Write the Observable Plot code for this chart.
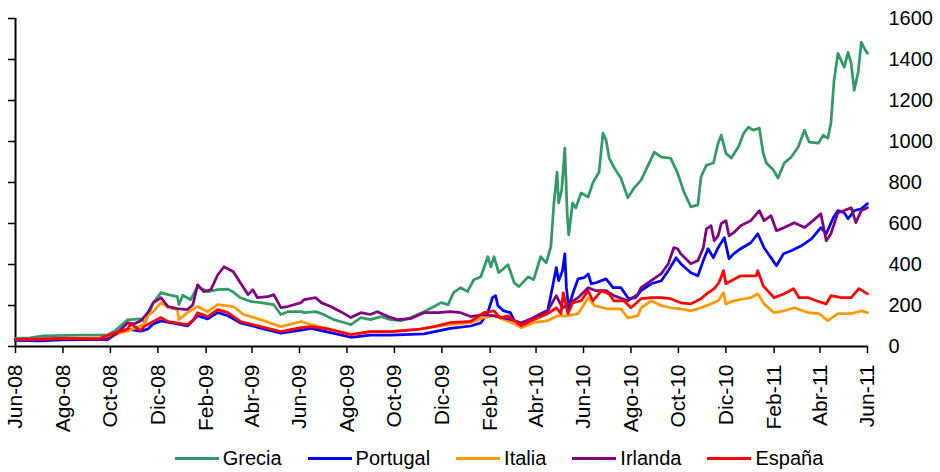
<!DOCTYPE html>
<html><head><meta charset="utf-8">
<script src="https://cdn.jsdelivr.net/npm/d3@7"></script>
<script src="https://cdn.jsdelivr.net/npm/@observablehq/plot@0.6"></script>
<style>
body{margin:0;background:#fff;font-family:"Liberation Sans",Arial,sans-serif;}
#wrap{position:relative;width:940px;height:472px;overflow:hidden;}
#legend{position:absolute;left:147px;top:444px;width:704px;height:28px;display:flex;align-items:center;justify-content:center;gap:26px;font-size:20px;color:#000;}
.item{display:flex;align-items:center;gap:4px}
.sw{width:44px;height:3px}
</style></head><body><div id="wrap"><div id="chart"></div><div id="legend"></div></div>
<script>
const seriesNames = ["Grecia","Portugal","Italia","Irlanda","España"];
const seriesColors = ["#339966","#0000ff","#ff9900","#800080","#ff0000"];
const yTicks = [0,200,400,600,800,1000,1200,1400,1600];
const xTicks = ["2008-06-01","2008-08-01","2008-10-01","2008-12-01","2009-02-01","2009-04-01","2009-06-01","2009-08-01","2009-10-01","2009-12-01","2010-02-01","2010-04-01","2010-06-01","2010-08-01","2010-10-01","2010-12-01","2011-02-01","2011-04-01","2011-06-01"];
const xTickLabels = ["Jun-08","Ago-08","Oct-08","Dic-08","Feb-09","Abr-09","Jun-09","Ago-09","Oct-09","Dic-09","Feb-10","Abr-10","Jun-10","Ago-10","Oct-10","Dic-10","Feb-11","Abr-11","Jun-11"];

const grecia = [["2008-06-01",40],["2008-06-20",42],["2008-07-06",52],["2008-08-24",55],["2008-09-27",55],["2008-10-08",80],["2008-10-23",130],["2008-11-09",135],["2008-11-15",120],["2008-11-25",213],["2008-12-05",263],["2008-12-14",253],["2008-12-26",243],["2008-12-28",204],["2009-01-02",250],["2009-01-12",228],["2009-01-21",292],["2009-02-03",268],["2009-02-16",277],["2009-03-01",280],["2009-03-08",265],["2009-03-17",238],["2009-03-31",219],["2009-04-12",214],["2009-04-29",204],["2009-05-08",156],["2009-05-17",170],["2009-06-03",170],["2009-06-07",165],["2009-06-22",170],["2009-07-02",156],["2009-07-15",131],["2009-07-28",117],["2009-08-06",107],["2009-08-19",141],["2009-08-31",131],["2009-09-14",146],["2009-09-26",131],["2009-10-09",126],["2009-10-22",141],["2009-11-08",170],["2009-11-21",195],["2009-11-30",214],["2009-12-09",204],["2009-12-16",263],["2009-12-25",287],["2010-01-03",268],["2010-01-11",326],["2010-01-20",340],["2010-01-29",438],["2010-02-02",389],["2010-02-06",438],["2010-02-12",360],["2010-02-24",399],["2010-03-04",311],["2010-03-10",292],["2010-03-22",340],["2010-03-29",326],["2010-04-07",438],["2010-04-14",408],["2010-04-20",486],["2010-04-24",700],["2010-04-28",851],["2010-04-30",700],["2010-05-04",763],["2010-05-08",968],["2010-05-11",652],["2010-05-13",545],["2010-05-18",700],["2010-05-22",676],["2010-05-29",749],["2010-06-07",729],["2010-06-13",798],["2010-06-21",851],["2010-06-26",1041],["2010-06-30",1007],["2010-07-04",919],["2010-07-10",875],["2010-07-19",822],["2010-07-28",725],["2010-08-05",773],["2010-08-14",812],["2010-08-31",948],["2010-09-09",924],["2010-09-21",919],["2010-09-30",846],["2010-10-08",754],["2010-10-17",681],["2010-10-26",691],["2010-10-30",827],["2010-11-06",885],["2010-11-15",895],["2010-11-21",992],["2010-11-25",1031],["2010-12-01",943],["2010-12-08",919],["2010-12-17",973],["2010-12-24",1041],["2010-12-30",1070],["2011-01-05",1055],["2011-01-13",1065],["2011-01-18",943],["2011-01-22",895],["2011-01-31",861],["2011-02-06",822],["2011-02-14",895],["2011-02-23",924],["2011-03-04",973],["2011-03-12",1055],["2011-03-18",997],["2011-03-30",992],["2011-04-05",1031],["2011-04-11",1016],["2011-04-15",1089],["2011-04-19",1298],["2011-04-24",1430],["2011-04-28",1396],["2011-05-02",1362],["2011-05-07",1435],["2011-05-11",1381],["2011-05-15",1250],["2011-05-20",1337],["2011-05-24",1483],["2011-05-28",1454],["2011-06-01",1430]];

const portugal = [["2008-06-01",30],["2008-07-03",28],["2008-07-30",32],["2008-09-18",35],["2008-10-01",50],["2008-10-23",85],["2008-11-09",75],["2008-11-18",85],["2008-11-25",110],["2008-12-05",125],["2008-12-26",110],["2009-01-08",100],["2009-01-21",150],["2009-02-03",135],["2009-02-16",165],["2009-03-01",150],["2009-03-17",115],["2009-04-12",90],["2009-05-08",65],["2009-06-03",80],["2009-06-16",88],["2009-07-11",68],["2009-08-06",45],["2009-08-31",55],["2009-09-26",55],["2009-11-08",62],["2009-12-12",88],["2010-01-07",100],["2010-01-20",115],["2010-01-29",165],["2010-02-04",238],["2010-02-08",248],["2010-02-11",199],["2010-02-18",175],["2010-02-27",165],["2010-03-04",126],["2010-03-13",111],["2010-03-22",126],["2010-04-07",160],["2010-04-16",175],["2010-04-23",306],["2010-04-27",385],["2010-04-30",321],["2010-05-05",370],["2010-05-08",452],["2010-05-10",287],["2010-05-13",189],["2010-05-18",256],["2010-05-25",330],["2010-06-02",336],["2010-06-07",354],["2010-06-11",306],["2010-06-17",311],["2010-06-30",330],["2010-07-09",287],["2010-07-19",287],["2010-07-29",233],["2010-08-07",238],["2010-08-14",272],["2010-08-27",306],["2010-09-09",321],["2010-09-18",370],["2010-09-28",433],["2010-10-04",404],["2010-10-17",360],["2010-10-26",345],["2010-11-02",419],["2010-11-08",477],["2010-11-15",433],["2010-11-21",482],["2010-11-29",531],["2010-12-05",428],["2010-12-11",452],["2010-12-20",477],["2011-01-02",506],["2011-01-11",550],["2011-01-19",482],["2011-01-28",433],["2011-02-04",394],["2011-02-13",452],["2011-02-23",467],["2011-03-08",491],["2011-03-21",525],["2011-04-02",580],["2011-04-09",550],["2011-04-18",628],["2011-04-24",663],["2011-05-02",653],["2011-05-07",623],["2011-05-15",663],["2011-05-24",672],["2011-06-01",697]];

const italia = [["2008-06-01",35],["2008-07-30",38],["2008-09-18",40],["2008-10-01",55],["2008-10-23",75],["2008-11-13",107],["2008-11-18",150],["2008-11-25",170],["2008-12-05",214],["2008-12-14",190],["2008-12-26",180],["2008-12-28",131],["2009-01-08",165],["2009-01-21",195],["2009-02-03",170],["2009-02-16",204],["2009-03-08",195],["2009-03-21",156],["2009-04-12",131],["2009-05-08",97],["2009-06-03",122],["2009-06-16",107],["2009-07-02",92],["2009-08-06",58],["2009-08-31",73],["2009-09-26",73],["2009-10-31",83],["2009-11-21",97],["2009-12-12",107],["2010-01-07",117],["2010-01-24",141],["2010-02-06",150],["2010-03-04",111],["2010-03-13",92],["2010-03-29",116],["2010-04-16",126],["2010-04-29",150],["2010-05-12",150],["2010-05-25",160],["2010-06-07",238],["2010-06-15",199],["2010-07-02",184],["2010-07-19",184],["2010-07-28",140],["2010-08-10",150],["2010-08-14",189],["2010-08-27",223],["2010-09-09",199],["2010-09-21",189],["2010-10-04",184],["2010-10-17",174],["2010-10-30",189],["2010-11-12",208],["2010-11-21",223],["2010-11-28",262],["2010-12-01",208],["2010-12-11",223],["2010-12-25",233],["2011-01-02",238],["2011-01-11",257],["2011-01-19",208],["2011-02-01",165],["2011-02-14",174],["2011-02-27",189],["2011-03-17",165],["2011-03-31",160],["2011-04-11",126],["2011-04-24",160],["2011-05-11",160],["2011-05-24",174],["2011-06-01",165]];

const irlanda = [["2008-06-01",35],["2008-07-30",38],["2008-09-18",35],["2008-09-27",32],["2008-10-08",60],["2008-10-23",115],["2008-10-31",110],["2008-11-09",125],["2008-11-18",165],["2008-11-25",213],["2008-12-05",238],["2008-12-14",195],["2008-12-26",185],["2009-01-08",180],["2009-01-15",204],["2009-01-21",301],["2009-01-29",268],["2009-02-07",277],["2009-02-16",350],["2009-02-24",389],["2009-03-08",365],["2009-03-17",311],["2009-03-27",253],["2009-04-02",277],["2009-04-08",238],["2009-04-21",243],["2009-04-29",253],["2009-05-08",190],["2009-05-17",195],["2009-06-03",214],["2009-06-07",229],["2009-06-22",238],["2009-06-29",214],["2009-07-11",195],["2009-07-24",170],["2009-08-06",141],["2009-08-19",165],["2009-08-31",156],["2009-09-09",170],["2009-09-23",146],["2009-10-05",131],["2009-10-22",136],["2009-11-08",165],["2009-11-26",165],["2009-12-12",170],["2009-12-25",165],["2010-01-07",146],["2010-01-24",156],["2010-02-06",150],["2010-02-24",135],["2010-03-13",116],["2010-03-29",140],["2010-04-16",174],["2010-04-27",248],["2010-05-05",189],["2010-05-13",208],["2010-05-25",238],["2010-06-07",287],["2010-06-17",272],["2010-06-30",272],["2010-07-10",248],["2010-07-28",223],["2010-08-10",256],["2010-08-14",287],["2010-08-27",321],["2010-09-09",355],["2010-09-18",404],["2010-09-25",482],["2010-09-30",477],["2010-10-04",452],["2010-10-17",404],["2010-10-26",419],["2010-11-02",482],["2010-11-06",574],["2010-11-12",589],["2010-11-16",516],["2010-11-21",540],["2010-11-25",599],["2010-12-01",614],["2010-12-05",540],["2010-12-11",555],["2010-12-20",589],["2011-01-02",614],["2011-01-13",663],["2011-01-19",614],["2011-01-28",638],["2011-02-04",565],["2011-02-14",580],["2011-02-27",604],["2011-03-12",580],["2011-03-23",614],["2011-04-02",648],["2011-04-09",516],["2011-04-15",550],["2011-04-24",653],["2011-05-02",663],["2011-05-11",677],["2011-05-17",604],["2011-05-24",663],["2011-06-01",677]];

const espana = [["2008-06-01",35],["2008-07-03",35],["2008-07-30",38],["2008-09-18",40],["2008-10-01",60],["2008-10-23",85],["2008-10-27",110],["2008-11-09",77],["2008-11-13",97],["2008-11-25",122],["2008-12-05",141],["2008-12-14",122],["2009-01-08",107],["2009-01-16",131],["2009-01-21",165],["2009-02-03",146],["2009-02-16",180],["2009-03-01",165],["2009-03-17",122],["2009-04-12",97],["2009-05-08",73],["2009-06-03",92],["2009-06-16",97],["2009-07-11",83],["2009-08-06",58],["2009-08-31",73],["2009-09-26",73],["2009-10-31",83],["2009-11-21",97],["2009-12-12",117],["2010-01-07",122],["2010-01-24",165],["2010-02-06",174],["2010-02-14",140],["2010-02-24",150],["2010-03-04",126],["2010-03-13",101],["2010-03-26",126],["2010-04-16",160],["2010-04-27",189],["2010-05-03",160],["2010-05-06",262],["2010-05-12",160],["2010-05-18",213],["2010-05-29",223],["2010-06-07",272],["2010-06-13",223],["2010-06-24",272],["2010-07-04",256],["2010-07-10",223],["2010-07-23",223],["2010-08-01",189],["2010-08-14",233],["2010-08-27",238],["2010-09-09",238],["2010-09-21",233],["2010-10-04",213],["2010-10-17",208],["2010-10-30",233],["2010-11-08",262],["2010-11-16",282],["2010-11-22",311],["2010-11-28",370],["2010-12-01",306],["2010-12-08",321],["2010-12-20",345],["2011-01-09",345],["2011-01-11",370],["2011-01-18",296],["2011-02-01",238],["2011-02-14",257],["2011-02-26",282],["2011-03-05",238],["2011-03-17",238],["2011-03-27",223],["2011-04-09",208],["2011-04-15",248],["2011-04-28",238],["2011-05-11",238],["2011-05-21",282],["2011-06-01",257]];

const seriesData = [grecia, portugal, italia, irlanda, espana];

const tickDates = xTicks.map(d => new Date(d));
const labelByTime = new Map(tickDates.map((d, i) => [+d, xTickLabels[i]]));

const lineMarks = seriesData.map((data, i) =>
  Plot.lineY(data, {
    x: d => new Date(d[0]),
    y: d => d[1],
    stroke: seriesColors[i],
    strokeWidth: 2.75,
    strokeLinejoin: "round"
  })
);

const chart = Plot.plot({
  width: 940,
  height: 444,
  marginLeft: 15,
  marginRight: 73,
  marginTop: 18,
  marginBottom: 98,
  style: {fontFamily: "'Liberation Sans', Arial, sans-serif", fontSize: "20px", color: "#000", background: "transparent", overflow: "visible"},
  x: {type: "utc", domain: [tickDates[0], tickDates[tickDates.length - 1]]},
  y: {domain: [yTicks[0], yTicks[yTicks.length - 1]]},
  marks: [
    Plot.axisX({ticks: tickDates, tickFormat: d => labelByTime.get(+d), tickRotate: -90, tickSize: 7, tickPadding: 11, strokeWidth: 1.5, fontSize: 21, label: null}),
    Plot.axisY({anchor: "right", ticks: yTicks, tickFormat: d => String(d), tickSize: 0, tickPadding: 21, label: null}),
    Plot.axisY({anchor: "left", ticks: yTicks, tickSize: 7, strokeWidth: 1.5, tickFormat: () => "", label: null}),
    Plot.ruleY([yTicks[0]], {stroke: "#000", strokeWidth: 2}),
    Plot.ruleX([tickDates[0]], {stroke: "#000", strokeWidth: 2}),
    ...lineMarks
  ]
});
document.getElementById("chart").append(chart);

const legend = document.getElementById("legend");
seriesNames.forEach((name, i) => {
  const item = document.createElement("div");
  item.className = "item";
  const sw = document.createElement("span");
  sw.className = "sw";
  sw.style.background = seriesColors[i];
  const t = document.createElement("span");
  t.textContent = name;
  item.append(sw, t);
  legend.append(item);
});
</script>
</body></html>
